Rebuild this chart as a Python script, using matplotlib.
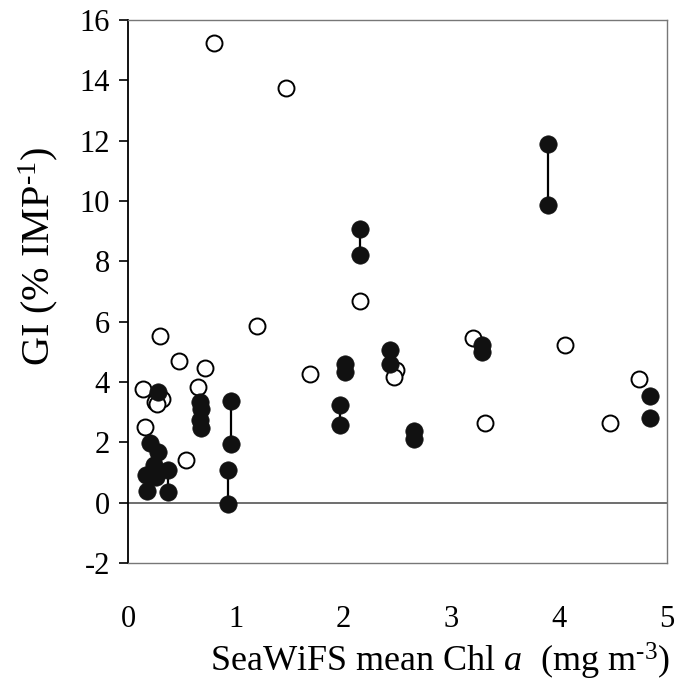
import numpy as np
import matplotlib.pyplot as plt

plt.rcParams['font.family'] = ['Liberation Serif', 'DejaVu Serif']
plt.rcParams['mathtext.fontset'] = 'custom'
plt.rcParams['mathtext.rm'] = 'Liberation Serif'
plt.rcParams['mathtext.it'] = 'Liberation Serif:italic'
plt.rcParams['axes.unicode_minus'] = False

# open circles
open_x = [0.80, 1.47, 2.15, 3.20, 1.69, 2.49, 2.47, 3.31, 0.30, 0.47, 0.71,
          0.65, 0.14, 0.25, 0.32, 0.27, 0.16, 0.54, 4.74, 4.47, 4.05, 1.20]
open_y = [15.24, 13.76, 6.67, 5.47, 4.26, 4.40, 4.18, 2.63, 5.51, 4.71, 4.46,
          3.85, 3.77, 3.35, 3.44, 3.27, 2.52, 1.42, 4.10, 2.65, 5.23, 5.86]

# filled circles
filled_x = [2.15, 2.15, 3.28, 3.28, 2.01, 2.01, 2.43, 2.43, 1.97, 1.97,
            2.65, 2.65, 0.28, 0.67, 0.68, 0.67, 0.68, 0.96, 0.96, 0.93,
            0.93, 0.20, 0.28, 0.24, 0.17, 0.26, 0.37, 0.18, 0.37, 3.90,
            3.90, 4.84, 4.84]
filled_y = [9.07, 8.22, 5.22, 5.00, 4.60, 4.33, 5.06, 4.59, 3.24, 2.56,
            2.38, 2.10, 3.68, 3.35, 3.10, 2.74, 2.47, 3.37, 1.95, 1.08,
            -0.04, 1.97, 1.69, 1.25, 0.92, 0.86, 1.08, 0.40, 0.34, 11.90,
            9.86, 3.52, 2.82]

# filled points joined by a line (indices into filled lists)
pairs = [(0, 1), (8, 9), (17, 18), (19, 20), (26, 28), (29, 30)]

fig = plt.figure(figsize=(6.78, 6.91), dpi=100)
ax = fig.add_axes([128 / 678, 1 - 563 / 691, 539 / 678, 543 / 691])

ax.axhline(0, color='#555555', lw=1.2, zorder=1)

for i, j in pairs:
    ax.plot([filled_x[i], filled_x[j]], [filled_y[i], filled_y[j]],
            color='black', lw=1.6, zorder=2)

ax.plot(open_x, open_y, 'o', ms=11.5, mfc='white', mec='black', mew=1.4,
        ls='none', zorder=3)
ax.plot(filled_x, filled_y, 'o', ms=12.5, mfc='#111111', mec='#111111',
        mew=0.5, ls='none', zorder=4)

ax.set_xlim(0, 5)
ax.set_ylim(-2, 16)
ax.set_xticks(np.arange(0, 6, 1))
ax.set_yticks(np.arange(-2, 17, 2))

for s in ['top', 'right', 'bottom']:
    ax.spines[s].set_color('#777777')
    ax.spines[s].set_linewidth(1.0)
ax.spines['left'].set_color('black')
ax.spines['left'].set_linewidth(1.3)

ax.tick_params(axis='x', length=0, pad=30, labelsize=22)
ax.tick_params(axis='y', direction='out', length=6.5, width=1.2,
               pad=6.5, labelsize=22)

ax.set_xlabel(r'SeaWiFS mean Chl $\it{a}$  (mg m$^{\text{-3}}$)', fontsize=26)
ax.xaxis.set_label_coords(0.579, -0.181)
ax.xaxis.label.set_va('center')
ax.set_ylabel(r'GI (% IMP$^{\text{-1}}$)', fontsize=29)
ax.yaxis.set_label_coords(-0.167, 0.565)
ax.yaxis.label.set_va('center')

fig.savefig('out.png', dpi=100)
